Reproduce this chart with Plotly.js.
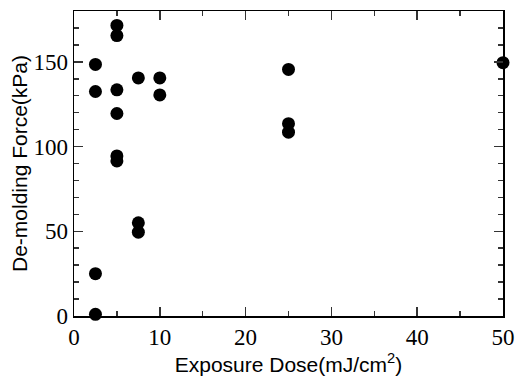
<!DOCTYPE html>
<html>
<head>
<meta charset="utf-8">
<script src="https://cdn.plot.ly/plotly-3.0.1.min.js"></script>
<style>html,body{margin:0;padding:0;background:#fff;}#chart{width:522px;height:380px;}</style>
</head>
<body>
<div id="chart"></div>
<script>
const exposureDose = [2.5, 2.5, 2.5, 2.5, 5, 5, 5, 5, 5, 5, 7.5, 7.5, 7.5, 10, 10, 25, 25, 25, 50];
const demoldingForce = [148.5, 132.5, 25, 1, 171.5, 165.5, 133.5, 119.5, 94.5, 91.5, 140.5, 55, 49.5, 140.5, 130.5, 145.5, 113.5, 108.5, 149.5];
const xTitle = 'Exposure Dose(mJ/cm<sup>2</sup>)';
const yTitle = 'De-molding Force(kPa)';

const serif = '"Liberation Serif", "Times New Roman", Times, serif';
const sans = '"Liberation Sans", Arial, Helvetica, sans-serif';

const trace = {
  x: exposureDose, y: demoldingForce, type: 'scatter', mode: 'markers',
  marker: {color: '#000', size: 13}, cliponaxis: false, showlegend: false
};
function axis(range, dtick, minorDtick, title, standoff) {
  return {
    showline: true, linecolor: '#000', linewidth: 1.5, mirror: 'allticks',
    ticks: 'inside', ticklen: 9, tickwidth: 1.5, tickcolor: '#333',
    showgrid: false, zeroline: false,
    tickfont: {family: serif, size: 23, color: '#000'},
    range: range, dtick: dtick, tick0: 0,
    minor: {dtick: minorDtick, ticks: 'inside', ticklen: 5, tickwidth: 1.5, tickcolor: '#333'},
    title: {text: title, standoff: standoff, font: {family: sans, size: 21, color: '#000'}}
  };
}
const layout = {
  width: 522, height: 380,
  margin: {l: 74, r: 19, t: 11, b: 64},
  paper_bgcolor: '#fff', plot_bgcolor: '#fff',
  xaxis: axis([0, 50], 10, 5, xTitle, 2),
  yaxis: axis([0, 180], 50, 10, yTitle, 0)
};
Plotly.newPlot('chart', [trace], layout, {displayModeBar: false, staticPlot: true});
</script>
</body>
</html>
